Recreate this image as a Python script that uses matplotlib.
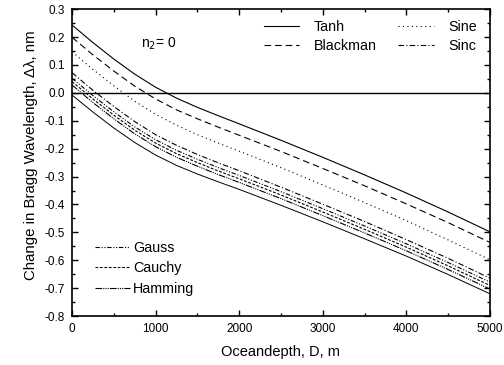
import matplotlib
matplotlib.use("Agg")
import matplotlib.pyplot as plt
from matplotlib.ticker import MultipleLocator

plt.rcParams['font.family'] = ['Liberation Sans', 'DejaVu Sans']

depth = [0, 250, 500, 750, 1000, 1250, 1500, 1750, 2000, 2500, 3000, 3500, 4000, 4500, 5000]
tanh_v     = [0.243, 0.180, 0.121, 0.067, 0.020, -0.019, -0.052, -0.082, -0.111, -0.170, -0.231, -0.294, -0.359, -0.427, -0.498]
blackman_v = [0.199, 0.136, 0.078, 0.024, -0.022, -0.061, -0.093, -0.123, -0.152, -0.210, -0.271, -0.333, -0.398, -0.465, -0.536]
sine_v     = [0.147, 0.084, 0.025, -0.030, -0.077, -0.116, -0.150, -0.180, -0.209, -0.268, -0.330, -0.393, -0.458, -0.527, -0.598]
sinc_v     = [0.072, 0.009, -0.049, -0.103, -0.150, -0.188, -0.221, -0.251, -0.279, -0.338, -0.399, -0.461, -0.526, -0.593, -0.664]
gauss_v    = [0.052, -0.010, -0.068, -0.122, -0.168, -0.206, -0.238, -0.268, -0.296, -0.354, -0.415, -0.477, -0.541, -0.608, -0.678]
cauchy_v   = [0.040, -0.022, -0.080, -0.134, -0.180, -0.218, -0.250, -0.280, -0.308, -0.366, -0.427, -0.489, -0.553, -0.620, -0.690]
hamming_v  = [0.028, -0.035, -0.093, -0.147, -0.193, -0.231, -0.263, -0.293, -0.321, -0.379, -0.440, -0.502, -0.566, -0.633, -0.703]
extra_v    = [-0.008, -0.069, -0.126, -0.178, -0.223, -0.260, -0.291, -0.319, -0.346, -0.403, -0.462, -0.523, -0.585, -0.651, -0.720]

fig = plt.figure(figsize=(5.04, 3.65), dpi=100)
ax = fig.add_axes([0.143, 0.134, 0.829, 0.841])

lw = 0.8
l_tanh, = ax.plot(depth, tanh_v, color='black', lw=lw, ls='-')
l_black, = ax.plot(depth, blackman_v, color='black', lw=lw, ls=(0, (6, 3.5)))
l_sine, = ax.plot(depth, sine_v, color='black', lw=lw, ls=(0, (1, 3)))
l_sinc, = ax.plot(depth, sinc_v, color='black', lw=lw, ls=(0, (5, 2, 1, 2)))
l_gauss, = ax.plot(depth, gauss_v, color='black', lw=lw, ls=(0, (4, 1.5, 1, 1.5, 1, 1.5)))
l_cauchy, = ax.plot(depth, cauchy_v, color='black', lw=lw, ls=(0, (2.5, 1.5)))
l_ham, = ax.plot(depth, hamming_v, color='black', lw=lw, ls=(0, (6, 1, 1, 1, 1, 1, 1, 1)))
ax.plot(depth, extra_v, color='black', lw=0.7, ls='-')

ax.axhline(0, color='black', lw=1.0)

ax.set_xlim(0, 5000)
ax.set_ylim(-0.8, 0.3)
ax.xaxis.set_major_locator(MultipleLocator(1000))
ax.xaxis.set_minor_locator(MultipleLocator(500))
ax.yaxis.set_minor_locator(MultipleLocator(0.05))
ax.set_yticks([0.3, 0.2, 0.1, 0.0, -0.1, -0.2, -0.3, -0.4, -0.5, -0.6, -0.7, -0.8])
ax.set_yticklabels(['0.3', '0.2', '0.1', '0.0', '-0.1', '-0.2', '-0.3', '-0.4', '-0.5', '-0.6', '-0.7', '-0.8'])
ax.tick_params(which='both', direction='in', top=True, right=True, labelsize=8.5, width=1)
ax.tick_params(which='major', length=4)
ax.tick_params(which='minor', length=2.5)
ax.tick_params(axis='x', pad=5)
ax.tick_params(axis='y', pad=5)
for s in ax.spines.values():
    s.set_linewidth(1.2)

ax.set_xlabel('Oceandepth, D, m', fontsize=10.5, labelpad=7)
ax.set_ylabel('Change in Bragg Wavelength, Δλ, nm', fontsize=10.8)
ax.yaxis.set_label_coords(-0.082, 0.524)

ax.text(0.165, 0.875, 'n$_2$= 0', transform=ax.transAxes, fontsize=10)

leg1 = ax.legend([l_tanh, l_black, l_sine, l_sinc], ['Tanh', 'Blackman', 'Sine', 'Sinc'],
                 ncol=2, loc='upper right', bbox_to_anchor=(1.0, 1.008), frameon=False,
                 fontsize=10.3, handlelength=2.5, columnspacing=1.5, handletextpad=1.0,
                 labelspacing=0.4)
ax.add_artist(leg1)
ax.legend([l_gauss, l_cauchy, l_ham], ['Gauss', 'Cauchy', 'Hamming'],
          loc='lower left', bbox_to_anchor=(0.025, 0.025), frameon=False,
          fontsize=10.3, handlelength=2.4, handletextpad=0.25, labelspacing=0.45)

fig.savefig('out.png', dpi=100)
